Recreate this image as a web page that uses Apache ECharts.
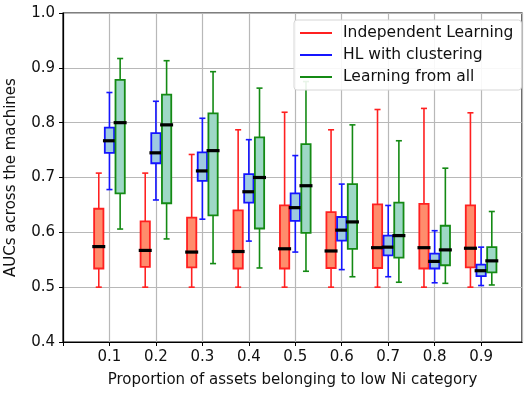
<!DOCTYPE html>
<html>
<head>
<meta charset="utf-8">
<script src="https://cdn.jsdelivr.net/npm/echarts@6/dist/echarts.min.js"></script>
<style>
  html, body { margin: 0; padding: 0; background: #fff; }
  #chart { width: 525px; height: 395px; }
</style>
</head>
<body>
<div id="chart"></div>
<script>
// Proportion of low-Ni assets (x positions of each group)
const proportions = [0.1, 0.2, 0.3, 0.4, 0.5, 0.6, 0.7, 0.8, 0.9];

// Box statistics per proportion: [lower whisker, Q1, median, Q3, upper whisker]
const independentStats = [
  [0.500, 0.534, 0.574, 0.643, 0.708],
  [0.500, 0.537, 0.567, 0.620, 0.708],
  [0.500, 0.536, 0.564, 0.627, 0.742],
  [0.500, 0.534, 0.565, 0.640, 0.787],
  [0.500, 0.534, 0.570, 0.649, 0.819],
  [0.500, 0.535, 0.566, 0.637, 0.787],
  [0.500, 0.535, 0.572, 0.651, 0.824],
  [0.500, 0.534, 0.572, 0.652, 0.826],
  [0.500, 0.536, 0.571, 0.649, 0.818]
];
const clusteringStats = [
  [0.678, 0.745, 0.767, 0.791, 0.855],
  [0.659, 0.726, 0.745, 0.781, 0.839],
  [0.624, 0.694, 0.712, 0.746, 0.808],
  [0.584, 0.654, 0.674, 0.706, 0.769],
  [0.564, 0.621, 0.645, 0.671, 0.740],
  [0.532, 0.585, 0.604, 0.628, 0.688],
  [0.519, 0.558, 0.573, 0.594, 0.649],
  [0.508, 0.534, 0.547, 0.561, 0.603],
  [0.503, 0.520, 0.530, 0.541, 0.573]
];
const allStats = [
  [0.606, 0.671, 0.800, 0.878, 0.917],
  [0.588, 0.653, 0.796, 0.851, 0.913],
  [0.543, 0.631, 0.749, 0.817, 0.893],
  [0.535, 0.607, 0.700, 0.773, 0.863],
  [0.529, 0.599, 0.685, 0.761, 0.875],
  [0.519, 0.570, 0.619, 0.688, 0.796],
  [0.509, 0.554, 0.594, 0.654, 0.767],
  [0.507, 0.540, 0.568, 0.612, 0.717],
  [0.504, 0.527, 0.548, 0.573, 0.638]
];

const seriesNames = ['Independent Learning', 'HL with clustering', 'Learning from all'];
const yTicks = [0.4, 0.5, 0.6, 0.7, 0.8, 0.9, 1.0];

const FONT = 'DejaVu Sans';
const styles = [
  { offset: -0.023, edge: '#ff2020', fill: '#ff8c6c' },
  { offset: 0,      edge: '#1515ff', fill: '#9ecae1' },
  { offset: 0.023,  edge: '#148a14', fill: '#9ed8c6' }
];

function makeData(stats, offset) {
  return stats.map((s, i) => [proportions[i] + offset].concat(s));
}

function boxRenderer(style) {
  return function (params, api) {
    const x = api.value(0);
    const lo = api.coord([x, api.value(1)]);
    const q1 = api.coord([x, api.value(2)]);
    const md = api.coord([x, api.value(3)]);
    const q3 = api.coord([x, api.value(4)]);
    const hi = api.coord([x, api.value(5)]);
    const halfBox = api.size([0.02, 0])[0] / 2;
    const halfCap = api.size([0.013, 0])[0] / 2;
    const halfMed = api.size([0.028, 0])[0] / 2;
    const cx = lo[0];
    const line = { stroke: style.edge, lineWidth: 1.6 };
    return {
      type: 'group',
      children: [
        { type: 'line', shape: { x1: cx, y1: q1[1], x2: cx, y2: lo[1] }, style: line },
        { type: 'line', shape: { x1: cx, y1: q3[1], x2: cx, y2: hi[1] }, style: line },
        { type: 'line', shape: { x1: cx - halfCap, y1: lo[1], x2: cx + halfCap, y2: lo[1] }, style: line },
        { type: 'line', shape: { x1: cx - halfCap, y1: hi[1], x2: cx + halfCap, y2: hi[1] }, style: line },
        { type: 'rect', shape: { x: cx - halfBox, y: q3[1], width: halfBox * 2, height: q1[1] - q3[1] },
          style: { fill: style.fill, stroke: style.edge, lineWidth: 1.8 } },
        { type: 'line', shape: { x1: cx - halfMed, y1: md[1], x2: cx + halfMed, y2: md[1] },
          style: { stroke: '#000', lineWidth: 3.2 } }
      ]
    };
  };
}

const statSets = [independentStats, clusteringStats, allStats];
const series = statSets.map((stats, k) => ({
  name: seriesNames[k],
  type: 'custom',
  renderItem: boxRenderer(styles[k]),
  itemStyle: { color: styles[k].edge },
  encode: { x: 0, y: [1, 2, 3, 4, 5] },
  data: makeData(stats, styles[k].offset),
  clip: false,
  z: 2
}));

// Only the tenths between 0.1 and 0.9 carry a label on the x axis
function xLabel(v) {
  return (v < 0.05 || v > 0.95) ? '' : v.toFixed(1);
}

const chart = echarts.init(document.getElementById('chart'), null, { renderer: 'canvas' });
chart.setOption({
  animation: false,
  backgroundColor: '#fff',
  grid: {
    left: 63, right: 3, top: 13, bottom: 53,
    containLabel: false, outerBoundsMode: 'none',
    show: true, borderColor: '#000', borderWidth: 1.2, backgroundColor: 'transparent'
  },
  legend: {
    data: seriesNames.map((n, k) => ({ name: n, itemStyle: { color: styles[k].edge } })),
    orient: 'vertical',
    left: 294, top: 20,
    icon: 'rect',
    itemWidth: 32, itemHeight: 2,
    itemGap: 6,
    padding: [5, 8, 5, 6],
    backgroundColor: 'rgba(255,255,255,0.9)',
    borderColor: '#d6d6d6', borderWidth: 1, borderRadius: 3,
    textStyle: { fontFamily: FONT, fontSize: 15.5, color: '#111', padding: [0, 0, 0, 6] },
    z: 10
  },
  xAxis: {
    type: 'value',
    min: 0, max: 0.988, interval: 0.1,
    name: 'Proportion of assets belonging to low Ni category',
    nameLocation: 'middle', nameGap: 31,
    nameTextStyle: { fontFamily: FONT, fontSize: 15, color: '#111' },
    axisLine: { show: true, lineStyle: { color: '#000', width: 1.2 } },
    axisTick: { show: true, length: 4, lineStyle: { color: '#000' } },
    axisLabel: { fontFamily: FONT, fontSize: 15, color: '#111', margin: 8, formatter: xLabel, showMaxLabel: false },
    splitLine: { show: true, lineStyle: { color: '#b8b8b8', width: 1.2 } }
  },
  yAxis: {
    type: 'value',
    min: yTicks[0], max: yTicks[yTicks.length - 1], interval: 0.1,
    name: 'AUCs across the machines',
    nameLocation: 'middle', nameGap: 44,
    nameTextStyle: { fontFamily: FONT, fontSize: 15, color: '#111' },
    axisLine: { show: true, lineStyle: { color: '#000', width: 1.2 } },
    axisTick: { show: true, length: 4, lineStyle: { color: '#000' } },
    axisLabel: { fontFamily: FONT, fontSize: 15, color: '#111', margin: 8, formatter: v => v.toFixed(1) },
    splitLine: { show: true, lineStyle: { color: '#b8b8b8', width: 1.2 } }
  },
  series: series
});
</script>
</body>
</html>
